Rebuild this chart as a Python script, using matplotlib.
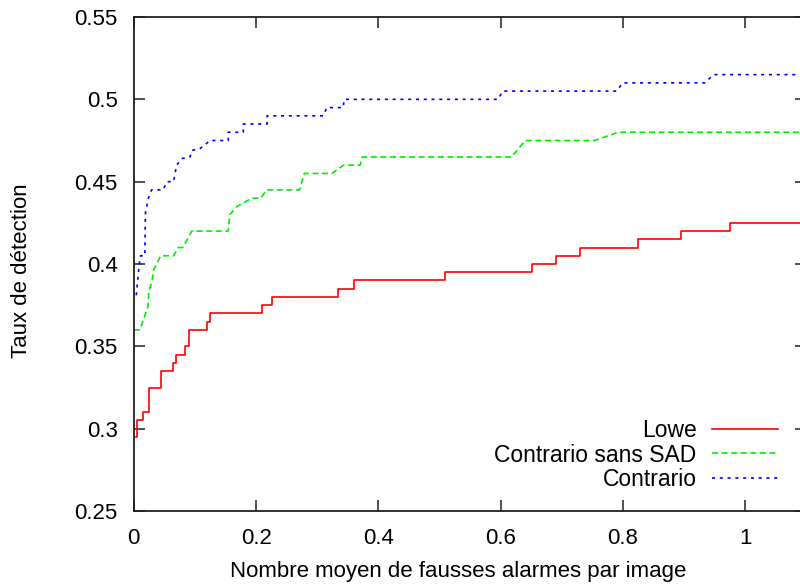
import matplotlib
matplotlib.use("Agg")
import matplotlib.pyplot as plt

plt.rcParams['font.family'] = ['Liberation Sans', 'DejaVu Sans']
plt.rcParams['lines.scale_dashes'] = False

# --- data ---
x_ticks = [0, 0.2, 0.4, 0.6, 0.8, 1.0]
x_tick_labels = ["0", "0.2", "0.4", "0.6", "0.8", "1"]
y_ticks = [0.25, 0.3, 0.35, 0.4, 0.45, 0.5, 0.55]
y_tick_labels = ["0.25", "0.3", "0.35", "0.4", "0.45", "0.5", "0.55"]

# Lowe: step curve (value holds until next x)
lowe_x = [0.003, 0.0047, 0.0146, 0.025, 0.0445, 0.0646, 0.069, 0.084, 0.0898, 0.12,
          0.1246, 0.209, 0.2255, 0.334, 0.36, 0.509, 0.651, 0.69, 0.73, 0.825,
          0.895, 0.975, 1.1]
lowe_y = [0.295, 0.305, 0.31, 0.325, 0.335, 0.34, 0.345, 0.35, 0.36, 0.365,
          0.37, 0.375, 0.38, 0.385, 0.39, 0.395, 0.40, 0.405, 0.41, 0.415,
          0.42, 0.425, 0.425]

# Contrario sans SAD: operating points
sans_x = [0.0, 0.010, 0.0155, 0.023, 0.025, 0.030, 0.032, 0.040, 0.044, 0.065,
          0.073, 0.080, 0.095, 0.1545, 0.157, 0.169, 0.179, 0.193, 0.208, 0.217,
          0.271, 0.279, 0.324, 0.343, 0.370, 0.374, 0.618, 0.629, 0.640, 0.754,
          0.792, 1.1]
sans_y = [0.36, 0.36, 0.366, 0.374, 0.384, 0.390, 0.396, 0.402, 0.405, 0.405,
          0.41, 0.41, 0.42, 0.42, 0.43, 0.435, 0.437, 0.44, 0.44, 0.445,
          0.445, 0.455, 0.455, 0.46, 0.46, 0.465, 0.465, 0.47, 0.475, 0.475,
          0.48, 0.48]

# Contrario: operating points
con_x = [0.004, 0.009, 0.011, 0.018, 0.019, 0.024, 0.029, 0.048, 0.054, 0.065,
         0.070, 0.078, 0.092, 0.095, 0.108, 0.125, 0.1545, 0.1545, 0.179, 0.179,
         0.218, 0.218, 0.31, 0.3155, 0.3425, 0.344, 0.596, 0.603, 0.79, 0.7995,
         0.934, 0.948, 1.1]
con_y = [0.381, 0.400, 0.405, 0.405, 0.431, 0.44, 0.445, 0.445, 0.45, 0.45,
         0.46, 0.464, 0.465, 0.469, 0.47, 0.475, 0.475, 0.48, 0.48, 0.485,
         0.485, 0.49, 0.49, 0.495, 0.495, 0.50, 0.50, 0.505, 0.505, 0.51,
         0.51, 0.515, 0.515]

labels = ["Lowe", "Contrario sans SAD", "Contrario"]

W, H = 800, 585
fig = plt.figure(figsize=(W / 100, H / 100), dpi=100)
ax = fig.add_axes([133.8 / W, (H - 511) / H, (806.4 - 133.8) / W, 494 / H])

ax.plot(lowe_x, lowe_y, color='#ff0000', lw=1.2, drawstyle='steps-post', label=labels[0])
ax.plot(sans_x, sans_y, color='#00ee00', lw=1.2, dashes=(4.3, 2.6), label=labels[1])
ax.plot(con_x, con_y, color='#0000ff', lw=1.2, dashes=(2.2, 3.4), label=labels[2])

ax.set_xlim(0, 1.1)
ax.set_ylim(0.25, 0.55)
ax.set_xticks(x_ticks)
ax.set_xticklabels(x_tick_labels)
ax.set_yticks(y_ticks)
ax.set_yticklabels(y_tick_labels)
ax.tick_params(direction='in', length=7.6, width=1.1, top=True, right=True,
               labelsize=16, color='#202020')
ax.tick_params(axis='y', pad=11.5)
ax.tick_params(axis='x', pad=12.5)
for s in ax.spines.values():
    s.set_linewidth(1.3)
    s.set_color('#202020')

ax.set_xlabel("Nombre moyen de fausses alarmes par image", fontsize=16)
ax.xaxis.set_label_coords(458 / W, (H - 572) / H, transform=fig.transFigure)
ax.xaxis.label.set_va('center')
ax.set_ylabel("Taux de détection", fontsize=16)
ax.yaxis.set_label_coords(22 / W, (H - 271) / H, transform=fig.transFigure)
ax.yaxis.label.set_va('center')

leg = ax.legend(loc='center right', bbox_to_anchor=(778 / W, (H - 455) / H),
                bbox_transform=fig.transFigure, markerfirst=False, frameon=False,
                fontsize=16.5, handlelength=2.9, handletextpad=0.65, labelspacing=0.05,
                borderpad=0, borderaxespad=0)

fig.savefig("out.png", dpi=100)
